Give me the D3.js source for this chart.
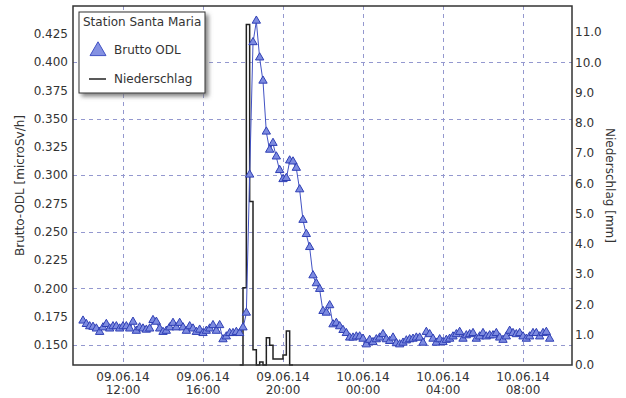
<!DOCTYPE html>
<html>
<head>
<meta charset="utf-8">
<script src="https://cdn.jsdelivr.net/npm/d3@7"></script>
<style>
  body { margin: 0; background: #fff; }
  text { font-family: "DejaVu Sans", Verdana, sans-serif; fill: #333; }
</style>
</head>
<body>
<div id="chart"></div>
<script>
// ODL readings, every 10 minutes from 09.06.14 10:00
const odlStart = '09.06.14 10:00';
const odlValues = [
  0.171, 0.168, 0.166, 0.1655, 0.164, 0.161, 0.165, 0.168, 0.164, 0.166, 0.166, 0.164,
  0.166, 0.166, 0.164, 0.170, 0.162, 0.165, 0.164, 0.163, 0.164, 0.1715, 0.170, 0.164,
  0.161, 0.162, 0.165, 0.169, 0.165, 0.169, 0.165, 0.162, 0.166, 0.164, 0.161, 0.163,
  0.160, 0.162, 0.164, 0.167, 0.162, 0.167, 0.1545, 0.157, 0.160, 0.160, 0.161, 0.160,
  0.165, 0.178, 0.300, 0.417, 0.436, 0.4035, 0.383, 0.338, 0.322, 0.328, 0.316, 0.304,
  0.296, 0.297, 0.3125, 0.3116, 0.306, 0.287, 0.260, 0.2475, 0.236, 0.211, 0.204, 0.199,
  0.1795, 0.178, 0.1846, 0.1677, 0.169, 0.166, 0.1627, 0.160, 0.156, 0.156, 0.157, 0.157,
  0.155, 0.150, 0.154, 0.152, 0.1545, 0.156, 0.159, 0.1545, 0.153, 0.156, 0.151, 0.150,
  0.1515, 0.1535, 0.1545, 0.155, 0.156, 0.156, 0.1515, 0.161, 0.159, 0.155, 0.1515, 0.1545,
  0.152, 0.154, 0.155, 0.157, 0.159, 0.161, 0.155, 0.158, 0.159, 0.160, 0.155, 0.157,
  0.160, 0.157, 0.158, 0.158, 0.160, 0.156, 0.154, 0.157, 0.162, 0.160, 0.159, 0.160,
  0.157, 0.155, 0.157, 0.160, 0.160, 0.157, 0.160, 0.161, 0.155
];

// precipitation (mm per 10 minutes) from 09.06.14 17:50
const rainStart = '09.06.14 17:50';
const rainValues = [0, 2.55, 11.25, 5.4, 0.5, 0, 0.1, 0, 0.9, 0.65, 0.2, 0.2, 0.2, 0.33, 1.12, 0, 0];

const odlTicks = [0.150, 0.175, 0.200, 0.225, 0.250, 0.275, 0.300, 0.325, 0.350, 0.375, 0.400, 0.425];
const odlGrid = [0.150, 0.200, 0.250, 0.300, 0.350, 0.400];
const rainTicks = [0, 1, 2, 3, 4, 5, 6, 7, 8, 9, 10, 11];
const timeTicks = ['09.06.14 12:00', '09.06.14 16:00', '09.06.14 20:00', '10.06.14 00:00', '10.06.14 04:00', '10.06.14 08:00'];

const width = 626;
const height = 398;
const margin = { top: 6, right: 54, bottom: 33, left: 73 };

const parse = d3.timeParse('%d.%m.%y %H:%M');
const odlData = odlValues.map((v, i) => ({ t: d3.timeMinute.offset(parse(odlStart), i * 10), v }));
const rainData = rainValues.map((v, i) => ({ t: d3.timeMinute.offset(parse(rainStart), i * 10), v }));

const x = d3.scaleTime()
  .domain([parse('09.06.14 09:30'), parse('10.06.14 10:27')])
  .range([margin.left, width - margin.right]);
const y = d3.scaleLinear()
  .domain([0.1323, 0.4495])
  .range([height - margin.bottom, margin.top]);
const y2 = d3.scaleLinear()
  .domain([0, 11.86])
  .range([height - margin.bottom, margin.top]);

const svg = d3.select('#chart').append('svg')
  .attr('width', width)
  .attr('height', height);

const defs = svg.append('defs');
defs.append('filter').attr('id', 'shadow')
  .attr('x', '-10%').attr('y', '-10%').attr('width', '130%').attr('height', '130%')
  .append('feDropShadow')
  .attr('dx', 3).attr('dy', 3).attr('stdDeviation', 2)
  .attr('flood-color', '#666').attr('flood-opacity', 0.8);

// grid
const grid = svg.append('g').attr('stroke', '#9498cf').attr('stroke-dasharray', '4,4').attr('stroke-width', 1);
grid.selectAll('line.h')
  .data(odlGrid)
  .enter().append('line')
  .attr('x1', margin.left).attr('x2', width - margin.right)
  .attr('y1', d => Math.round(y(d)) + 0.5).attr('y2', d => Math.round(y(d)) + 0.5);
grid.selectAll('line.v')
  .data(timeTicks.map(parse))
  .enter().append('line')
  .attr('y1', margin.top).attr('y2', height - margin.bottom)
  .attr('x1', d => Math.round(x(d)) + 0.5).attr('x2', d => Math.round(x(d)) + 0.5);

// precipitation as step line
const rainLine = d3.line()
  .x(d => x(d.t))
  .y(d => y2(d.v))
  .curve(d3.curveStepAfter);
svg.append('path')
  .datum(rainData)
  .attr('d', rainLine)
  .attr('fill', 'none')
  .attr('stroke', '#222')
  .attr('stroke-width', 1.5);

// ODL line + triangles
const odlLine = d3.line().x(d => x(d.t)).y(d => y(d.v));
svg.append('path')
  .datum(odlData)
  .attr('d', odlLine)
  .attr('fill', 'none')
  .attr('stroke', '#4252c4')
  .attr('stroke-width', 1);

const tri = d3.symbol().type(d3.symbolTriangle).size(30);
svg.append('g').selectAll('path')
  .data(odlData)
  .enter().append('path')
  .attr('d', tri)
  .attr('transform', d => `translate(${x(d.t)},${y(d.v) - 0.5})`)
  .attr('fill', '#7d8be0')
  .attr('stroke', '#2f3fb5')
  .attr('stroke-width', 1);

// frame
svg.append('rect')
  .attr('x', margin.left).attr('y', margin.top)
  .attr('width', width - margin.left - margin.right)
  .attr('height', height - margin.top - margin.bottom)
  .attr('fill', 'none')
  .attr('stroke', '#333')
  .attr('stroke-width', 1.5);

// axes
const fmtL = d3.format('.3f');
const fmtR = d3.format('.1f');
svg.append('g').selectAll('text')
  .data(odlTicks)
  .enter().append('text')
  .attr('x', margin.left - 5)
  .attr('y', d => y(d))
  .attr('dy', '0.35em')
  .attr('text-anchor', 'end')
  .style('font-size', '12px')
  .text(d => fmtL(d));

svg.append('g').selectAll('text')
  .data(rainTicks)
  .enter().append('text')
  .attr('x', width - margin.right + 3)
  .attr('y', d => y2(d))
  .attr('dy', '0.35em')
  .style('font-size', '12px')
  .text(d => fmtR(d));

const xt = svg.append('g').selectAll('text')
  .data(timeTicks.map(parse))
  .enter().append('text')
  .attr('text-anchor', 'middle')
  .style('font-size', '12px');
xt.append('tspan')
  .attr('x', d => x(d)).attr('y', 381)
  .text(d => d3.timeFormat('%d.%m.%y')(d));
xt.append('tspan')
  .attr('x', d => x(d)).attr('y', 394)
  .text(d => d3.timeFormat('%H:%M')(d));

svg.append('text')
  .attr('transform', `translate(24,${(margin.top + height - margin.bottom) / 2}) rotate(-90)`)
  .attr('text-anchor', 'middle')
  .style('font-size', '12px')
  .text('Brutto-ODL [microSv/h]');
svg.append('text')
  .attr('transform', `translate(606,${(margin.top + height - margin.bottom) / 2}) rotate(90)`)
  .attr('text-anchor', 'middle')
  .style('font-size', '12px')
  .text('Niederschlag [mm]');

// legend
const lg = svg.append('g').attr('transform', 'translate(79,12)');
lg.append('rect')
  .attr('width', 126).attr('height', 81)
  .attr('fill', '#fff')
  .attr('stroke', '#333')
  .attr('stroke-width', 1)
  .attr('filter', 'url(#shadow)');
lg.append('text').attr('x', 4).attr('y', 14).style('font-size', '12px').text('Station Santa Maria');
lg.append('path')
  .attr('d', d3.symbol().type(d3.symbolTriangle).size(110))
  .attr('transform', 'translate(19,39)')
  .attr('fill', '#8491e2')
  .attr('stroke', '#4252c4');
lg.append('text').attr('x', 35).attr('y', 42).style('font-size', '12px').text('Brutto ODL');
lg.append('line')
  .attr('x1', 10).attr('x2', 27).attr('y1', 67).attr('y2', 67)
  .attr('stroke', '#222').attr('stroke-width', 1.5);
lg.append('text').attr('x', 35).attr('y', 71).style('font-size', '12px').text('Niederschlag');
</script>
</body>
</html>
